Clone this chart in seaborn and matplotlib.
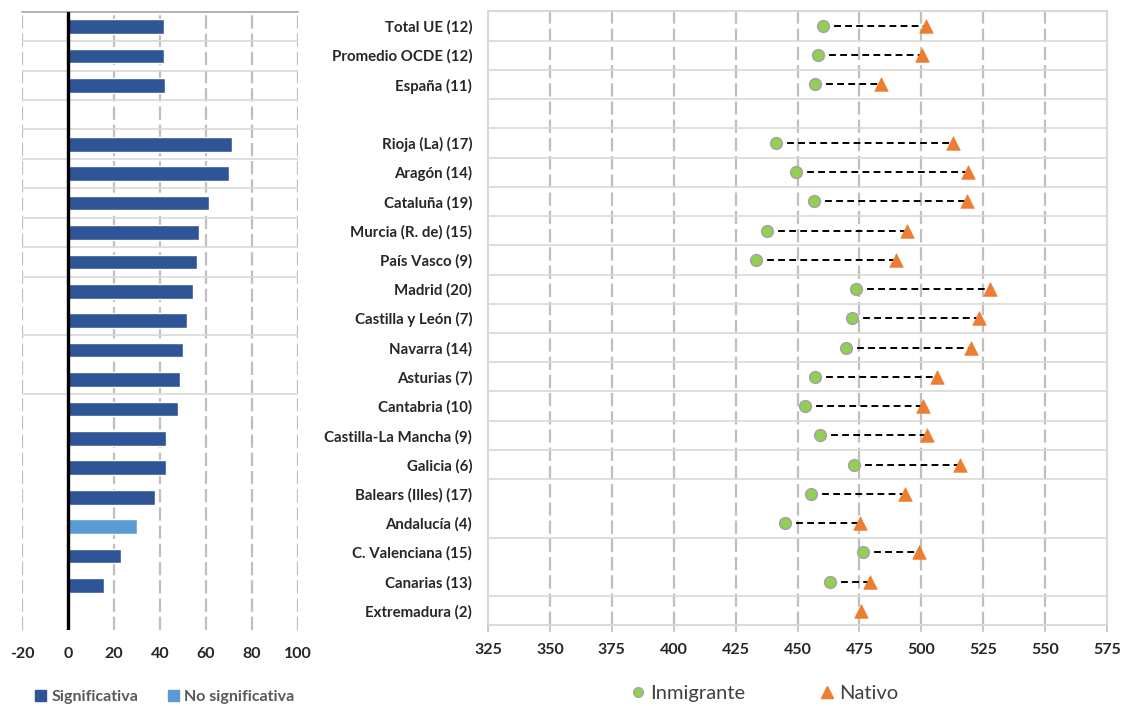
import numpy as np
import pandas as pd
import matplotlib.pyplot as plt
import matplotlib.patches as mpatches
import matplotlib.lines as mlines
import seaborn as sns

nan = np.nan

# Rows top to bottom (blank row separates the aggregates from the regions)
regions = ["Total UE (12)", "Promedio OCDE (12)", "España (11)", "",
           "Rioja (La) (17)", "Aragón (14)", "Cataluña (19)", "Murcia (R. de) (15)",
           "País Vasco (9)", "Madrid (20)", "Castilla y León (7)", "Navarra (14)",
           "Asturias (7)", "Cantabria (10)", "Castilla-La Mancha (9)", "Galicia (6)",
           "Balears (Illes) (17)", "Andalucía (4)", "C. Valenciana (15)",
           "Canarias (13)", "Extremadura (2)"]

inmigrante = [460.2, 458.3, 457.2, nan, 441.5, 449.4, 456.8, 437.5, 433.4, 473.5,
              471.9, 469.6, 457.2, 453.0, 459.2, 472.8, 455.3, 445.1, 476.3, 463.1, nan]
nativo = [501.9, 500.2, 483.7, nan, 512.7, 519.0, 518.6, 494.4, 489.6, 527.9,
          523.3, 520.1, 506.2, 500.8, 502.3, 515.8, 493.3, 475.2, 498.9, 479.2, 475.8]
diferencia = [41.8, 41.8, 42.1, nan, 71.3, 69.8, 61.5, 57.0, 56.3, 54.4,
              51.7, 50.1, 48.9, 47.7, 42.8, 42.8, 37.9, 30.0, 22.9, 15.5, nan]
significancia = ["Significativa"] * 17 + ["No significativa"] + ["Significativa"] * 3

left_ticks = [-20, 0, 20, 40, 60, 80, 100]
right_ticks = [325, 350, 375, 400, 425, 450, 475, 500, 525, 550, 575]

# row separators that are visible in the original rendering
left_seps = [1, 2, 3, 4, 5, 6, 7, 8, 9, 11, 13]
right_seps = [1, 2, 3, 4, 5, 6, 7, 8, 9, 10, 11, 12, 13, 14, 15, 16, 18, 20]

bar_colors = {"Significativa": "#2F5597", "No significativa": "#5B9BD5"}
GREEN = "#92D050"
ORANGE = "#ED7D31"
HGRID = "#D9D9D9"
VGRID = "#BFBFBF"

sns.set_style("white")
plt.rcParams["font.family"] = ["Lato", "DejaVu Sans"]
plt.rcParams["axes.unicode_minus"] = False

pos = np.arange(len(regions))
df_bar = pd.DataFrame({"region": regions, "diferencia": diferencia, "sig": significancia})
df_pts = pd.DataFrame({"pos": pos, "Inmigrante": inmigrante, "Nativo": nativo})

fig = plt.figure(figsize=(11.28, 7.06), dpi=100)
ax1 = fig.add_axes([22 / 1128, 1 - 629.6 / 706, 276 / 1128, 617.8 / 706])
ax2 = fig.add_axes([488 / 1128, 1 - 625.4 / 706, 619 / 1128, 614 / 706])

# ---- left: difference bars
sns.barplot(data=df_bar, x="diferencia", y="region", hue="sig", order=regions,
            hue_order=list(bar_colors), palette=bar_colors, dodge=False, width=0.5,
            saturation=1, errorbar=None, legend=False, orient="h", ax=ax1, zorder=3)
ax1.set_xlim(left_ticks[0], left_ticks[-1])
ax1.set_ylim(len(regions) - 0.5, -0.5)
ax1.set_xticks(left_ticks)
ax1.set_xlabel("")
ax1.set_ylabel("")
ax1.tick_params(left=False, labelleft=False, bottom=False, pad=9, labelsize=11.5)
for lab in ax1.get_xticklabels():
    lab.set_fontweight("bold")
for t in left_ticks:
    ax1.axvline(t, color=VGRID, lw=1.6, ls=(0, (6, 2.2)), zorder=1)
for k in left_seps:
    ax1.axhline(k - 0.5, color=HGRID, lw=1.2, zorder=1)
ax1.axvline(0, color="black", lw=2.4, zorder=4)
for s in ["left", "right", "bottom"]:
    ax1.spines[s].set_visible(False)
ax1.spines["top"].set_color("#A6A6A6")
ax1.spines["top"].set_linewidth(1.2)

# ---- right: scores by origin
ax2.hlines(df_pts["pos"], df_pts["Inmigrante"], df_pts["Nativo"], colors="black",
           linestyles=(0, (3.5, 2.2)), lw=1.4, zorder=3)
sns.scatterplot(data=df_pts, x="Inmigrante", y="pos", marker="o", s=70, color=GREEN,
                edgecolor="#A5A5A5", linewidth=1.2, zorder=4, ax=ax2)
sns.scatterplot(data=df_pts, x="Nativo", y="pos", marker="^", s=95, color=ORANGE,
                edgecolor=ORANGE, linewidth=0.5, zorder=5, ax=ax2)
ax2.set_xlim(right_ticks[0], right_ticks[-1])
ax2.set_ylim(len(regions) - 0.5, -0.5)
ax2.set_xticks(right_ticks)
ax2.set_yticks(pos)
ax2.set_yticklabels(regions)
ax2.set_xlabel("")
ax2.set_ylabel("")
for t in right_ticks[1:-1]:
    ax2.axvline(t, color=VGRID, lw=1.6, ls=(0, (6, 2.2)), zorder=1)
for k in right_seps:
    ax2.axhline(k - 0.5, color=HGRID, lw=1.2, zorder=1)
ax2.tick_params(axis="y", left=False, pad=8, labelsize=10.8)
ax2.tick_params(axis="x", bottom=True, direction="out", length=5, width=1.2,
                color=VGRID, pad=8, labelsize=11.5)
for lab in ax2.get_xticklabels() + ax2.get_yticklabels():
    lab.set_fontweight("bold")
for s in ax2.spines.values():
    s.set_color(HGRID)
    s.set_linewidth(1.5)

# ---- legends
sig_handles = [mpatches.Patch(color=c, label=k) for k, c in bar_colors.items()]
leg1 = fig.legend(handles=sig_handles, loc="center", bbox_to_anchor=(165 / 1128, 1 - 697 / 706),
                  ncol=2, frameon=False, handlelength=0.7, handleheight=0.7,
                  handletextpad=0.35, columnspacing=1.8,
                  prop={"weight": "bold", "size": 11.5})
for t in leg1.get_texts():
    t.set_color("#595959")

pt_handles = [mlines.Line2D([], [], ls="", marker="o", ms=7, color=GREEN,
                            mec="#A5A5A5", mew=1, label="Inmigrante"),
              mlines.Line2D([], [], ls="", marker="^", ms=8.5, color=ORANGE, label="Nativo")]
leg2 = fig.legend(handles=pt_handles, loc="center", bbox_to_anchor=(763 / 1128, 1 - 693 / 706),
                  ncol=2, frameon=False, handlelength=1.0, handletextpad=0.1,
                  columnspacing=3.6, prop={"size": 14.5})
for t in leg2.get_texts():
    t.set_color("#404040")

fig.savefig("out.png", dpi=100)
